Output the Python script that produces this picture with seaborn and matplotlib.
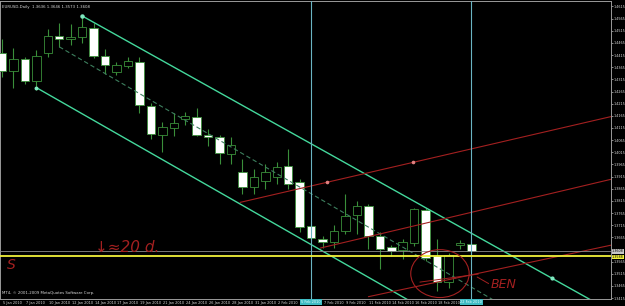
import numpy as np
import pandas as pd
import matplotlib
matplotlib.use("Agg")
import matplotlib.pyplot as plt
import matplotlib.transforms as mtransforms
from matplotlib.patches import Ellipse
import seaborn as sns

# ---------------- data ----------------
dates = ["5 Jan 2010", "6 Jan 2010", "7 Jan 2010", "8 Jan 2010", "10 Jan 2010", "11 Jan 2010",
         "12 Jan 2010", "13 Jan 2010", "14 Jan 2010", "15 Jan 2010", "17 Jan 2010", "18 Jan 2010",
         "19 Jan 2010", "20 Jan 2010", "21 Jan 2010", "22 Jan 2010", "24 Jan 2010", "25 Jan 2010",
         "26 Jan 2010", "27 Jan 2010", "28 Jan 2010", "29 Jan 2010", "31 Jan 2010", "1 Feb 2010",
         "2 Feb 2010", "3 Feb 2010", "4 Feb 2010", "5 Feb 2010", "7 Feb 2010", "8 Feb 2010",
         "9 Feb 2010", "10 Feb 2010", "11 Feb 2010", "12 Feb 2010", "14 Feb 2010", "15 Feb 2010",
         "16 Feb 2010", "17 Feb 2010", "18 Feb 2010", "19 Feb 2010", "21 Feb 2010", "22 Feb 2010"]

opens = [1.4424, 1.4350, 1.4400, 1.4309, 1.4424, 1.4494, 1.4482, 1.4490, 1.4527, 1.4412,
         1.4346, 1.4371, 1.4387, 1.4207, 1.4088, 1.4117, 1.4154, 1.4162, 1.4088, 1.4076,
         1.4006, 1.3936, 1.3871, 1.3895, 1.3912, 1.3957, 1.3891, 1.3711, 1.3658, 1.3645,
         1.3690, 1.3756, 1.3793, 1.3670, 1.3625, 1.3612, 1.3641, 1.3776, 1.3588, 1.3481,
         1.3633, 1.3637]
highs = [1.4482, 1.4445, 1.4408, 1.4437, 1.4523, 1.4547, 1.4543, 1.4576, 1.4547, 1.4441,
         1.4387, 1.4408, 1.4408, 1.4219, 1.4141, 1.4178, 1.4182, 1.4199, 1.4109, 1.4088,
         1.4076, 1.3986, 1.3945, 1.3965, 1.3977, 1.4027, 1.3904, 1.3731, 1.3670, 1.3715,
         1.3842, 1.3813, 1.3801, 1.3686, 1.3633, 1.3658, 1.3785, 1.3785, 1.3658, 1.3600,
         1.3653, 1.3645]
lows = [1.4326, 1.4281, 1.4297, 1.4273, 1.4408, 1.4449, 1.4457, 1.4465, 1.4404, 1.4338,
        1.4334, 1.4363, 1.4178, 1.4068, 1.4018, 1.4080, 1.4129, 1.4080, 1.4039, 1.3965,
        1.3965, 1.3842, 1.3842, 1.3863, 1.3883, 1.3863, 1.3686, 1.3649, 1.3621, 1.3621,
        1.3678, 1.3678, 1.3617, 1.3535, 1.3588, 1.3576, 1.3629, 1.3567, 1.3444, 1.3457,
        1.3617, 1.3596]
closes = [1.4350, 1.4400, 1.4309, 1.4412, 1.4494, 1.4482, 1.4490, 1.4531, 1.4412, 1.4375,
          1.4375, 1.4391, 1.4211, 1.4092, 1.4121, 1.4137, 1.4166, 1.4088, 1.4076, 1.4014,
          1.4047, 1.3871, 1.3912, 1.3936, 1.3953, 1.3883, 1.3707, 1.3662, 1.3645, 1.3690,
          1.3752, 1.3793, 1.3670, 1.3617, 1.3608, 1.3645, 1.3781, 1.3580, 1.3481, 1.3592,
          1.3641, 1.3608]

price_ticks = [1.4615, 1.4565, 1.4515, 1.4465, 1.4415, 1.4365, 1.4315, 1.4265, 1.4215,
               1.4165, 1.4115, 1.4065, 1.4015, 1.3965, 1.3915, 1.3865, 1.3815, 1.3765,
               1.3715, 1.3665, 1.3565, 1.3515, 1.3465, 1.3415]

bid_price = 1.3608
yellow_level = 1.3588
vline_bars = [27, 41]
vline_labels = ["5 Feb 2010", "22 Feb 2010"]

# channel lines (bar, price)
chan_upper_x = [7, 54]
chan_upper_y = [1.4576, 1.3340]
chan_lower_x = [3, 54]
chan_lower_y = [1.4281, 1.2909]
chan_mid_x = [5, 54]
chan_mid_y = [1.4449, 1.3103]
# red trend lines
red1_x = [20.8, 53.2]
red1_y = [1.3809, 1.4162]
red2_x = [27.8, 53.2]
red2_y = [1.3621, 1.3904]
red3_x = [32.0, 53.2]
red3_y = [1.3421, 1.3633]

title = "EURUSD,Daily  1.3636 1.3646 1.3573 1.3608"
copyright_txt = "MT4, \u00a9 2001-2009 MetaQuotes Software Corp."

# ---------------- style ----------------
sns.set_theme(style="dark", rc={"axes.facecolor": "black", "figure.facecolor": "black",
                                "axes.edgecolor": "#9a9a9a"})
plt.rcParams['font.family'] = ['DejaVu Sans']

fig = plt.figure(figsize=(6.25, 3.06), dpi=100)
ax = fig.add_axes([0.0, 7 / 306, 611 / 625, 298 / 306])
ax.set_facecolor("black")

n = len(opens)
xs = np.arange(n)
green = "#3a8f3a"

# wicks
ax.vlines(xs, lows, highs, color=green, lw=0.8, zorder=2)
# bodies
for i in range(n):
    o, c = opens[i], closes[i]
    bottom = min(o, c)
    h = max(abs(c - o), 0.0003)
    face = "white" if c < o else "black"
    ax.bar(i, h, bottom=bottom, width=0.74, color=face, edgecolor=green, linewidth=0.6, zorder=3)

# channel lines via seaborn
df_up = pd.DataFrame({"x": chan_upper_x, "y": chan_upper_y})
df_lo = pd.DataFrame({"x": chan_lower_x, "y": chan_lower_y})
sns.lineplot(data=df_up, x="x", y="y", ax=ax, color="#44d89c", lw=1.0, zorder=4)
sns.lineplot(data=df_lo, x="x", y="y", ax=ax, color="#44d89c", lw=1.0, zorder=4)
ax.plot(chan_mid_x, chan_mid_y, color="#3d7f5e", lw=0.8, dashes=(4, 2.5), zorder=4)
ax.plot([chan_upper_x[0]], [chan_upper_y[0]], "o", ms=2.2, color="#7fe8c0", zorder=5)
ax.plot([chan_lower_x[0]], [chan_lower_y[0]], "o", ms=1.8, color="#7fe8c0", zorder=5)
ax.plot([48], [chan_upper_y[0] + (chan_upper_y[1] - chan_upper_y[0]) * (48 - 7) / 47], "o",
        ms=2.0, color="#7fe8c0", zorder=5)

red = "#a32020"
for rx, ry in [(red1_x, red1_y), (red2_x, red2_y), (red3_x, red3_y)]:
    sns.lineplot(x=rx, y=ry, ax=ax, color=red, lw=0.8, zorder=4)
for bx in [28.4, 35.9]:
    by = red1_y[0] + (red1_y[1] - red1_y[0]) * (bx - red1_x[0]) / (red1_x[1] - red1_x[0])
    ax.plot([bx], [by], "o", ms=1.6, color="#e08080", zorder=5)

# horizontal levels
ax.axhline(bid_price, color="#8a8a8a", lw=0.6, zorder=4)
ax.axhline(yellow_level, color="#f2f23a", lw=1.3, zorder=5)

# vertical lines
for vb in vline_bars:
    ax.axvline(vb, color="#6ab4c2", lw=0.8, zorder=4)

# hand drawings
ax.add_patch(Ellipse((38.25, 1.3516), 5.1, 0.0197, fill=False, edgecolor=red, lw=0.8, zorder=6))
ax.plot([36.5, 41.6], [1.3481, 1.3514], color=red, lw=0.7, zorder=6)
ax.plot([41.5, 42.5], [1.3502, 1.3475], color=red, lw=0.7, zorder=6)
ax.text(42.7, 1.3473, "BEN", color=red, fontsize=9, va="center", ha="left",
        fontstyle="italic", zorder=6)
ax.text(0.4, 1.3553, "S", color=red, fontsize=10, va="center", ha="left",
        fontstyle="italic", zorder=6)
ax.text(8.1, 1.3625, "\u2193\u224820 d.", color=red, fontsize=11, va="center", ha="left",
        fontstyle="italic", zorder=6)

# texts
ax.text(0.004, 0.988, title, transform=ax.transAxes, color="#d8d8d8", fontsize=2.8,
        va="top", ha="left")
ax.text(0.003, 0.012, copyright_txt, transform=ax.transAxes, color="#d8d8d8", fontsize=2.8,
        va="bottom", ha="left")

# axes
ax.set_xlim(-0.175, 53.19)
ax.set_ylim(1.34115, 1.46374)
ax.set_xlabel("")
ax.set_ylabel("")
ax.grid(False)

tick_idx = [i for i in range(0, n, 2) if i not in (26, 40)]
ax.set_xticks(tick_idx)
ax.set_xticklabels([dates[i] for i in tick_idx], ha="left")
ax.tick_params(axis="x", length=1.2, width=0.5, colors="#bdbdbd", labelsize=2.5, pad=0.3,
               labelcolor="#d8d8d8")
offset = mtransforms.ScaledTranslation(1.0 / 100, 0, fig.dpi_scale_trans)
for lab in ax.get_xticklabels():
    lab.set_transform(lab.get_transform() + offset)

ax.yaxis.tick_right()
ax.set_yticks(price_ticks)
ax.set_yticklabels([f"{p:.4f}" for p in price_ticks])
ax.tick_params(axis="y", length=1.2, width=0.5, colors="#bdbdbd", labelsize=2.4, pad=0.4,
               labelcolor="#d8d8d8", left=False, right=True)

for s in ax.spines.values():
    s.set_color("#9a9a9a")
    s.set_linewidth(0.7)

# price labels on right axis
tr_y = ax.get_yaxis_transform()
ax.text(1.0015, bid_price, f"{bid_price:.4f}", transform=tr_y, fontsize=2.4, color="black",
        va="center", ha="left", bbox=dict(boxstyle="square,pad=0.1", fc="#c8c8c8", ec="none"),
        clip_on=False, zorder=7)
ax.text(1.0015, yellow_level - 0.0004, f"{yellow_level:.4f}", transform=tr_y, fontsize=2.4,
        color="black", va="center", ha="left",
        bbox=dict(boxstyle="square,pad=0.1", fc="#f2f23a", ec="none"),
        clip_on=False, zorder=7)

# vertical line labels on the time axis
tr_x = ax.get_xaxis_transform()
for vb, vl in zip(vline_bars, vline_labels):
    ax.text(vb, -0.004, vl, transform=tr_x, fontsize=2.5, color="#e8ffff", va="top",
            ha="center", bbox=dict(boxstyle="square,pad=0.25", fc="#3fbcc4", ec="none"),
            clip_on=False, zorder=7)

fig.savefig("out.png", dpi=100, facecolor="black")
